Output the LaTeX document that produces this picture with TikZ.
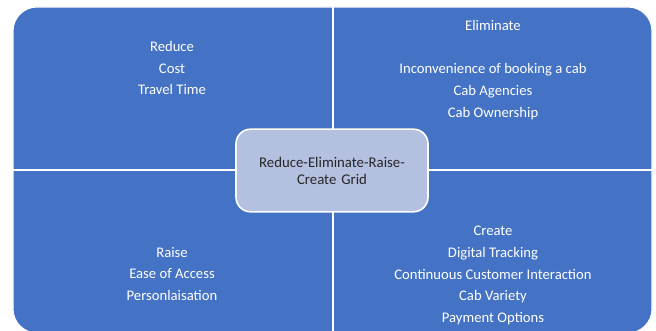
\documentclass[tikz,border=0pt]{standalone}
\usepackage{fontspec}
\setmainfont{Carlito}
\usetikzlibrary{calc}
\definecolor{gridblue}{HTML}{4472C4}
\definecolor{hubblue}{HTML}{B4C0E0}
\definecolor{hubtext}{HTML}{262626}
\tikzset{
	quadtext/.style={align=center, text=white, font=\fontsize{11}{16.3}\selectfont},
	hubbox/.style={draw=white, line width=1.2pt, fill=hubblue, rounded corners=11pt,
		text width=130pt, inner xsep=7pt, minimum height=62pt, align=center, text=hubtext,
		font=\fontsize{11.1}{12.8}\selectfont}
}

\begin{document}
\begin{tikzpicture}[x=0.75pt, y=-0.75pt]
		%%%%% START %%%%%
		\useasboundingbox (0, 0) rectangle (656, 331);
		
		% the four quadrants
		\draw[fill=gridblue, draw=white, line width=0.8pt, rounded corners=18pt] (13, 7) rectangle (652, 333);
		\draw[white, line width=1.6pt] (333, 7) -- (333, 333);
		\draw[white, line width=1.6pt] (13, 170) -- (652, 170);
		
		\node[quadtext] (reduce) at (172, 68) {Reduce\\Cost\\Travel Time};
		\node[quadtext] (eliminate) at (493, 70) {Eliminate\\[16.3pt]Inconvenience of booking a cab\\Cab Agencies\\Cab Ownership};
		\node[quadtext] (raise) at (172, 273.8) {Raise\\Ease of Access\\Personlaisation};
		\node[quadtext] (create) at (493, 275.5) {Create\\Digital Tracking\\Continuous Customer Interaction\\Cab Variety\\Payment Options};
		
		% centre label
		\node[hubbox] (hub) at (332, 170.5) {Reduce-Eliminate-Raise-\\Create Grid};
		
		%%%%% END %%%%%
	\end{tikzpicture}
\end{document}
